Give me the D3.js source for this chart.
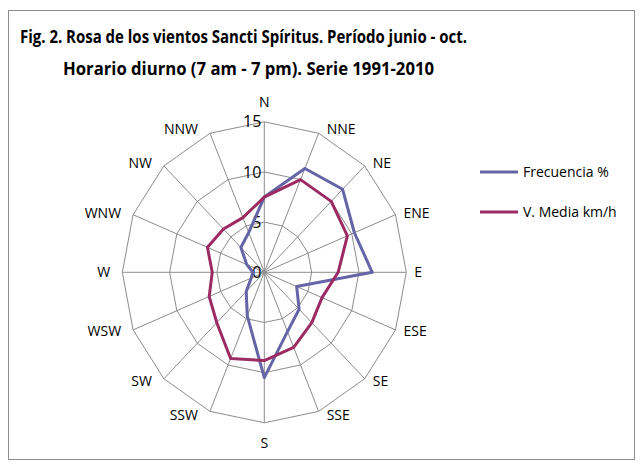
<!DOCTYPE html>
<html>
<head>
<meta charset="utf-8">
<script src="https://cdn.jsdelivr.net/npm/d3@7"></script>
<style>
  body { margin: 0; background: #fff; }
  svg { display: block; font-family: "Open Sans", "Liberation Sans", sans-serif; }
</style>
</head>
<body>
<div id="chart"></div>
<script>
// Directions of the wind rose (clockwise from N)
const directions = ["N", "NNE", "NE", "ENE", "E", "ESE", "SE", "SSE",
                    "S", "SSW", "SW", "WSW", "W", "WNW", "NW", "NNW"];
// Frecuencia %
const frecuencia = [7.5, 11.2, 11.7, 10.3, 11.4, 3.7, 5.2, 6.4,
                    10.5, 4.7, 2.7, 1.5, 1.2, 2.0, 3.5, 4.3];
// V. Media km/h
const velMedia = [7.5, 10.0, 10.0, 9.5, 7.8, 6.6, 7.1, 8.1,
                  8.8, 9.3, 7.1, 6.3, 5.5, 6.5, 6.1, 5.9];
const radialTicks = [0, 5, 10, 15];
const seriesNames = ["Frecuencia %", "V. Media km/h"];

const width = 642, height = 467;
const cx = 264.3, cy = 272.3;
const colors = ["#6464a6", "#9c2b63"];

// the picture is slightly squeezed horizontally, so use two radial scales
const rX = d3.scaleLinear().domain([0, 15]).range([0, 142]);
const rY = d3.scaleLinear().domain([0, 15]).range([0, 150.5]);
const angle = d3.scalePoint().domain(directions).range([0, 2 * Math.PI * 15 / 16]);

const px = (dir, v) => cx + rX(v) * Math.sin(angle(dir));
const py = (dir, v) => cy - rY(v) * Math.cos(angle(dir));

const svg = d3.select("#chart").append("svg")
    .attr("width", width)
    .attr("height", height);

// chart border
svg.append("rect")
    .attr("x", 8.5).attr("y", 10.5)
    .attr("width", 626).attr("height", 449)
    .attr("fill", "none")
    .attr("stroke", "#8c8c8c");

// title
const title = svg.append("g")
    .attr("font-weight", "bold")
    .attr("font-size", 17.5)
    .attr("fill", "#000")
    .style("white-space", "pre");
title.append("text")
    .attr("x", 20).attr("y", 43)
    .attr("textLength", 447).attr("lengthAdjust", "spacingAndGlyphs")
    .text("Fig. 2. Rosa de los vientos Sancti Spíritus. Período junio - oct.");
title.append("text")
    .attr("x", 63).attr("y", 75)
    .attr("textLength", 371).attr("lengthAdjust", "spacingAndGlyphs")
    .text("Horario diurno (7 am - 7 pm). Serie  1991-2010");

// grid rings
const line = d3.line().curve(d3.curveLinearClosed);
svg.append("g")
    .attr("fill", "none")
    .attr("stroke", "#8c8c8c")
    .attr("stroke-width", 1)
  .selectAll("path")
  .data(radialTicks.slice(1))
  .join("path")
    .attr("d", t => line(directions.map(d => [px(d, t), py(d, t)])));

// spokes
svg.append("g")
    .attr("stroke", "#8c8c8c")
    .attr("stroke-width", 1)
  .selectAll("line")
  .data(directions)
  .join("line")
    .attr("x1", cx).attr("y1", cy)
    .attr("x2", d => px(d, 15))
    .attr("y2", d => py(d, 15));

// radial tick labels
svg.append("g")
    .attr("font-size", 16)
    .attr("text-anchor", "end")
    .attr("fill", "#000")
  .selectAll("text")
  .data(radialTicks)
  .join("text")
    .attr("x", cx - 3)
    .attr("y", t => py("N", t))
    .attr("dy", "0.35em")
    .text(t => t);

// direction labels
const lab = svg.append("g")
    .attr("font-size", 14)
    .attr("fill", "#000")
  .selectAll("text")
  .data(directions)
  .join("text")
    .attr("dy", "0.35em")
    .text(d => d);
lab.each(function(d) {
  const a = angle(d), s = Math.sin(a), c = Math.cos(a);
  const vx = px(d, 15), vy = py(d, 15);
  const el = d3.select(this);
  if (Math.abs(s) < 0.01) {
    el.attr("text-anchor", "middle")
      .attr("x", vx)
      .attr("y", vy - c * 20);
  } else {
    el.attr("text-anchor", s > 0 ? "start" : "end")
      .attr("x", s > 0 ? vx + 8 : vx - 12)
      .attr("y", vy - c * 4);
  }
});

// series
[frecuencia, velMedia].forEach((vals, i) => {
  svg.append("path")
      .attr("fill", "none")
      .attr("stroke", colors[i])
      .attr("stroke-width", 3)
      .attr("stroke-linejoin", "round")
      .attr("d", line(directions.map((d, j) => [px(d, vals[j]), py(d, vals[j])])));
});

// legend
const legend = svg.append("g")
  .selectAll("g")
  .data(seriesNames)
  .join("g")
    .attr("transform", (d, i) => `translate(480,${172 + i * 40})`);
legend.append("line")
    .attr("x1", 0).attr("x2", 38)
    .attr("stroke", (d, i) => colors[i])
    .attr("stroke-width", 3);
legend.append("text")
    .attr("x", 43)
    .attr("dy", "0.35em")
    .attr("font-size", 14)
    .text(d => d);
</script>
</body>
</html>
